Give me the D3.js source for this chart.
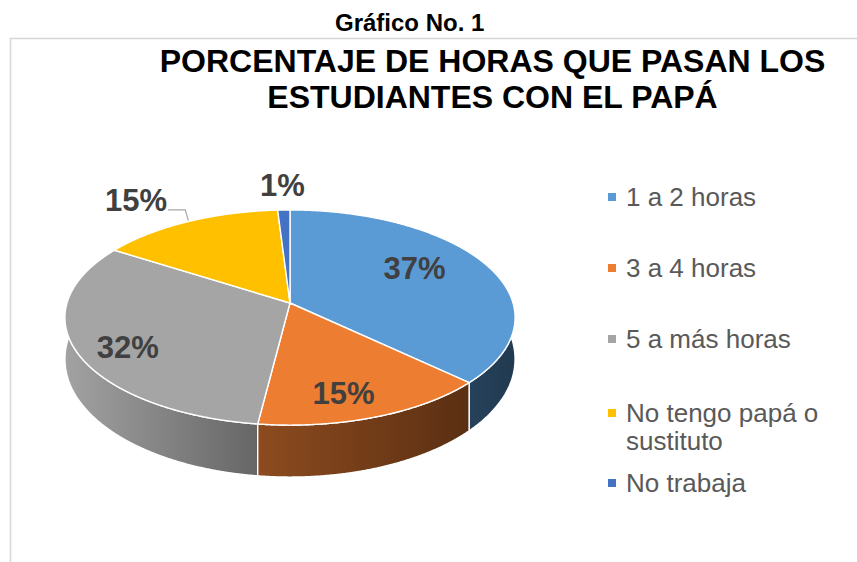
<!DOCTYPE html>
<html><head><meta charset="utf-8">
<script src="https://cdn.jsdelivr.net/npm/d3@7"></script>
<style>body{margin:0;background:#fff}svg{display:block}</style>
</head><body>
<svg id="c" width="857" height="562"></svg>
<script>
// ---- data ----
const categories = ["1 a 2 horas", "3 a 4 horas", "5 a más horas", "No tengo papá o sustituto", "No trabaja"];
const values = [37, 15, 32, 15, 1];
const valueLabels = ["37%", "15%", "32%", "15%", "1%"];
const legendLines = [["1 a 2 horas"], ["3 a 4 horas"], ["5 a más horas"], ["No tengo papá o", "sustituto"], ["No trabaja"]];
const supTitle = "Gráfico No. 1";
const titleLines = ["PORCENTAJE DE HORAS QUE PASAN LOS", "ESTUDIANTES CON EL PAPÁ"];

// ---- styles / layout ----
const topColors = ["#5b9bd5", "#ed7d31", "#a5a5a5", "#ffc000", "#4472c4"];
const sideColors = [["#26415b", "#213a50"], ["#8d4b1f", "#5a2f12"], ["#a2a2a2", "#666666"], ["#b38600", "#8a6700"], ["#2f5291", "#233f70"]];
const labelPlace = [
  {r: 0.65, dx: -4, dy: -9},
  {r: 0.65, dx: 0, dy: 20},
  {r: 0.65, dx: -26, dy: 14},
  {r: 1.25, dx: -30, dy: -4, leader: true},
  {r: 1.25, dx: 0, dy: -5}
];
const legendBaselines = [206, 277, 348, 422, 492];

const svg = d3.select("#c");
const cx = 290, cy = 303, Rx = 223, Ry = 105.6, k = 0.135;
const proj = (r, a) => {
  const u = r * Math.sin(a), v = -r * Math.cos(a), w = 1 - k * v;
  return [cx + Rx * u / w, cy + Ry * v / w];
};
const depth = a => 40 + 12 * (-Math.cos(a));

// border
svg.append("path").attr("d", "M10.5,562 L10.5,38.5 L857,38.5")
  .attr("fill", "none").attr("stroke", "#d6d6d6").attr("stroke-width", 1.5);

// titles
svg.append("text").attr("x", 335).attr("y", 31).text(supTitle)
  .attr("font-family", "Liberation Sans, Arial, sans-serif").attr("font-weight", "bold")
  .attr("font-size", 24).attr("fill", "#000");
svg.selectAll("text.title").data(titleLines).join("text").attr("class", "title")
  .attr("x", 492.5).attr("y", (d, i) => 72 + i * 36).attr("text-anchor", "middle")
  .attr("font-family", "Liberation Sans, Arial, sans-serif").attr("font-weight", "bold")
  .attr("font-size", 32).attr("fill", "#000").text(d => d);

const pie = d3.pie().sort(null).value(d => d).startAngle(0).endAngle(2 * Math.PI);
const arcs = pie(values);

const defs = svg.append("defs");
const step = Math.PI / 720;
const sample = (a0, a1) => {
  const n = Math.max(2, Math.ceil((a1 - a0) / step));
  return d3.range(n + 1).map(i => a0 + (a1 - a0) * i / n);
};

// walls
const walls = arcs.map((d, i) => {
  const angs = sample(d.startAngle, d.endAngle);
  const top = angs.map(a => proj(1, a));
  const bot = angs.map((a, j) => [top[j][0], top[j][1] + depth(a)]);
  const vis = angs.map((a, j) => -Math.cos(a) > 0 ? top[j][0] : null).filter(x => x !== null);
  const xs = vis.length ? vis : top.map(p => p[0]);
  const g = defs.append("linearGradient").attr("id", "wg" + i)
    .attr("gradientUnits", "userSpaceOnUse")
    .attr("x1", d3.min(xs)).attr("x2", d3.max(xs)).attr("y1", 0).attr("y2", 0);
  g.append("stop").attr("offset", 0).attr("stop-color", sideColors[i][0]);
  g.append("stop").attr("offset", 1).attr("stop-color", sideColors[i][1]);
  const pts = top.concat(bot.reverse());
  const mv = d3.max(angs, a => -Math.cos(a));
  return {i, path: "M" + pts.map(p => p[0].toFixed(2) + "," + p[1].toFixed(2)).join("L") + "Z", mv};
}).sort((a, b) => a.mv - b.mv);

svg.append("g").selectAll("path").data(walls).join("path")
  .attr("d", d => d.path).attr("fill", d => `url(#wg${d.i})`)
  .attr("stroke", "#fff").attr("stroke-width", 1.4).attr("stroke-linejoin", "round");

// top faces
svg.append("g").selectAll("path").data(arcs).join("path")
  .attr("d", d => {
    const pts = sample(d.startAngle, d.endAngle).map(a => proj(1, a));
    return `M${cx},${cy}L` + pts.map(p => p[0].toFixed(2) + "," + p[1].toFixed(2)).join("L") + "Z";
  })
  .attr("fill", (d, i) => topColors[i])
  .attr("stroke", "#fff").attr("stroke-width", 1.4).attr("stroke-linejoin", "round");

// labels
arcs.forEach((d, i) => {
  const mid = (d.startAngle + d.endAngle) / 2;
  const lp = labelPlace[i];
  const p = proj(lp.r, mid);
  const x = p[0] + lp.dx, y = p[1] + lp.dy;
  const t = svg.append("text").attr("x", x).attr("y", y).attr("dy", "0.35em")
    .attr("text-anchor", "middle")
    .attr("font-family", "Liberation Sans, Arial, sans-serif").attr("font-weight", "bold")
    .attr("font-size", 31).attr("fill", "#404040").text(valueLabels[i]);
  if (lp.leader) {
    const w = t.node().getComputedTextLength();
    const rim = proj(1, mid);
    svg.append("path")
      .attr("d", `M${x + w / 2 + 1},${y + 10}L${rim[0] - 3},${y + 10}L${rim[0]},${rim[1] - 1}`)
      .attr("fill", "none").attr("stroke", "#a6a6a6").attr("stroke-width", 1.2);
  }
});

// legend
const lg = svg.append("g").selectAll("g").data(categories).join("g");
lg.append("rect").attr("x", 608).attr("y", (d, i) => legendBaselines[i] - 13)
  .attr("width", 8).attr("height", 8).attr("fill", (d, i) => topColors[i]);
lg.append("text").attr("x", 626).attr("y", (d, i) => legendBaselines[i])
  .attr("font-family", "Liberation Sans, Arial, sans-serif").attr("font-size", 26)
  .attr("fill", "#595959")
  .selectAll("tspan").data((d, i) => legendLines[i]).join("tspan")
  .attr("x", 626).attr("dy", (d, j) => j === 0 ? 0 : 28).text(d => d);
</script>
</body></html>
